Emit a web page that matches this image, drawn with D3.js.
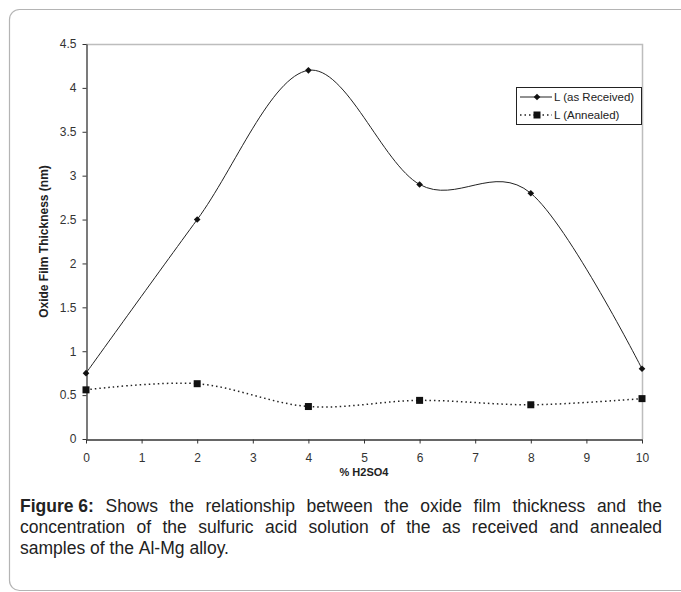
<!DOCTYPE html>
<html>
<head>
<meta charset="utf-8">
<script src="https://cdn.jsdelivr.net/npm/d3@7"></script>
<style>
  body { margin: 0; background: #fff; }
  svg { display: block; }
</style>
</head>
<body>
<svg id="chart" width="681" height="592"></svg>
<script>
"use strict";

// data
var concentrations = [0, 2, 4, 6, 8, 10];
var asReceived = [0.75, 2.5, 4.2, 2.9, 2.8, 0.8];
var annealed = [0.56, 0.63, 0.37, 0.44, 0.39, 0.46];
var xTicks = [0, 1, 2, 3, 4, 5, 6, 7, 8, 9, 10];
var yTicks = [0, 0.5, 1, 1.5, 2, 2.5, 3, 3.5, 4, 4.5];
var seriesNames = ["L (as Received)", "L (Annealed)"];
var captionLines = [
    "Shows the relationship between the oxide film thickness and the",
    "concentration of the sulfuric acid solution of the as received and annealed",
    "samples of the Al-Mg alloy."
];

var svg = d3.select("#chart");
var font = "'Liberation Sans', Arial, sans-serif";

// outer frame
svg.append("rect")
    .attr("x", 9.5).attr("y", 9.5)
    .attr("width", 720).attr("height", 581)
    .attr("rx", 10)
    .attr("fill", "none")
    .attr("stroke", "#b4b4b4")
    .attr("stroke-width", 1.2);

var plot = { left: 86, top: 44, right: 642, bottom: 439 };

var xScale = d3.scaleLinear().domain([0, 10]).range([plot.left, plot.right]);
var yScale = d3.scaleLinear().domain([0, 4.5]).range([plot.bottom, plot.top]);

// top and right border of plot area
svg.append("path")
    .attr("d", "M" + plot.left + "," + (plot.top + 0.5) + "H" + (plot.right + 0.5) + "V" + plot.bottom)
    .attr("fill", "none")
    .attr("stroke", "#bdbdbd")
    .attr("stroke-width", 1.5);

// axes
var xAxis = svg.append("g")
    .attr("transform", "translate(0," + (plot.bottom + 0.5) + ")")
    .call(d3.axisBottom(xScale).tickValues(xTicks).tickSize(4).tickSizeOuter(0).tickPadding(10));

var yAxis = svg.append("g")
    .attr("transform", "translate(" + (plot.left + 0.5) + ",0)")
    .call(d3.axisLeft(yScale).tickValues(yTicks).tickSize(4).tickSizeOuter(0).tickPadding(6).tickFormat(d3.format("")));

[xAxis, yAxis].forEach(function (g) {
    g.select(".domain").attr("stroke", "#333").attr("stroke-width", 1.3);
    g.selectAll(".tick line").attr("stroke", "#333");
    g.selectAll(".tick text")
        .attr("fill", "#333")
        .style("font-family", font)
        .style("font-size", "12px");
});

// axis titles
svg.append("text")
    .attr("x", xScale(5)).attr("y", 476)
    .attr("text-anchor", "middle")
    .style("font-family", font)
    .style("font-size", "11px")
    .style("font-weight", "bold")
    .attr("fill", "#222")
    .text("% H2SO4");

svg.append("text")
    .attr("transform", "translate(48," + yScale(2.25) + ") rotate(-90)")
    .attr("text-anchor", "middle")
    .style("font-family", font)
    .style("font-size", "12px")
    .style("font-weight", "bold")
    .attr("fill", "#222")
    .text("Oxide Film Thickness (nm)");

// lines
var line = d3.line()
    .x(function (d, i) { return xScale(concentrations[i]); })
    .y(function (d) { return yScale(d); })
    .curve(d3.curveCardinal.tension(0));

svg.append("path")
    .datum(asReceived)
    .attr("d", line)
    .attr("fill", "none")
    .attr("stroke", "#222")
    .attr("stroke-width", 1);

svg.append("path")
    .datum(annealed)
    .attr("d", line)
    .attr("fill", "none")
    .attr("stroke", "#222")
    .attr("stroke-width", 1.5)
    .attr("stroke-dasharray", "1.5,3");

// markers
var diamond = d3.symbol().type(d3.symbolDiamond2).size(28);

svg.selectAll(".recv")
    .data(asReceived)
    .enter()
    .append("path")
    .attr("class", "recv")
    .attr("transform", function (d, i) { return "translate(" + xScale(concentrations[i]) + "," + yScale(d) + ")"; })
    .attr("d", diamond)
    .attr("fill", "#111");

svg.selectAll(".ann")
    .data(annealed)
    .enter()
    .append("rect")
    .attr("class", "ann")
    .attr("x", function (d, i) { return xScale(concentrations[i]) - 3.5; })
    .attr("y", function (d) { return yScale(d) - 3.5; })
    .attr("width", 7).attr("height", 7)
    .attr("fill", "#111");

// legend
var legend = svg.append("g");
legend.append("rect")
    .attr("x", 516.5).attr("y", 87.5)
    .attr("width", 125).attr("height", 37)
    .attr("fill", "#fff")
    .attr("stroke", "#222");

seriesNames.forEach(function (name, i) {
    var ly = 97 + i * 18;
    legend.append("line")
        .attr("x1", 520).attr("x2", 552)
        .attr("y1", ly).attr("y2", ly)
        .attr("stroke", "#222")
        .attr("stroke-width", i === 0 ? 1 : 1.5)
        .attr("stroke-dasharray", i === 0 ? null : "1.5,3");
    if (i === 0) {
        legend.append("path")
            .attr("transform", "translate(537," + ly + ")")
            .attr("d", diamond)
            .attr("fill", "#111");
    } else {
        legend.append("rect")
            .attr("x", 533.5).attr("y", ly - 3.5)
            .attr("width", 7).attr("height", 7)
            .attr("fill", "#111");
    }
    legend.append("text")
        .attr("x", 554).attr("y", ly + 4)
        .style("font-family", font)
        .style("font-size", "11.5px")
        .attr("fill", "#222")
        .text(name);
});

// caption, justified by spreading the words over the line
var capLeft = 20, capRight = 662;

captionLines.forEach(function (txt, li) {
    var by = 512 + li * 21;
    var words = txt.split(" ");
    var items = [];
    if (li === 0) items.push({ t: "Figure 6:", bold: true });
    words.forEach(function (w) { items.push({ t: w, bold: false }); });

    var nodes = items.map(function (it) {
        return svg.append("text")
            .attr("y", by)
            .style("font-family", font)
            .style("font-size", "17.5px")
            .style("font-weight", it.bold ? "bold" : "normal")
            .attr("fill", "#222")
            .text(it.t);
    });
    var widths = nodes.map(function (n) { return n.node().getComputedTextLength(); });
    var total = d3.sum(widths);
    var justify = li < captionLines.length - 1;
    var gap = justify ? (capRight - capLeft - total) / (items.length - 1) : 4.9;
    var x = capLeft;
    nodes.forEach(function (n, k) {
        n.attr("x", x);
        x += widths[k] + gap;
    });
});
</script>
</body>
</html>
